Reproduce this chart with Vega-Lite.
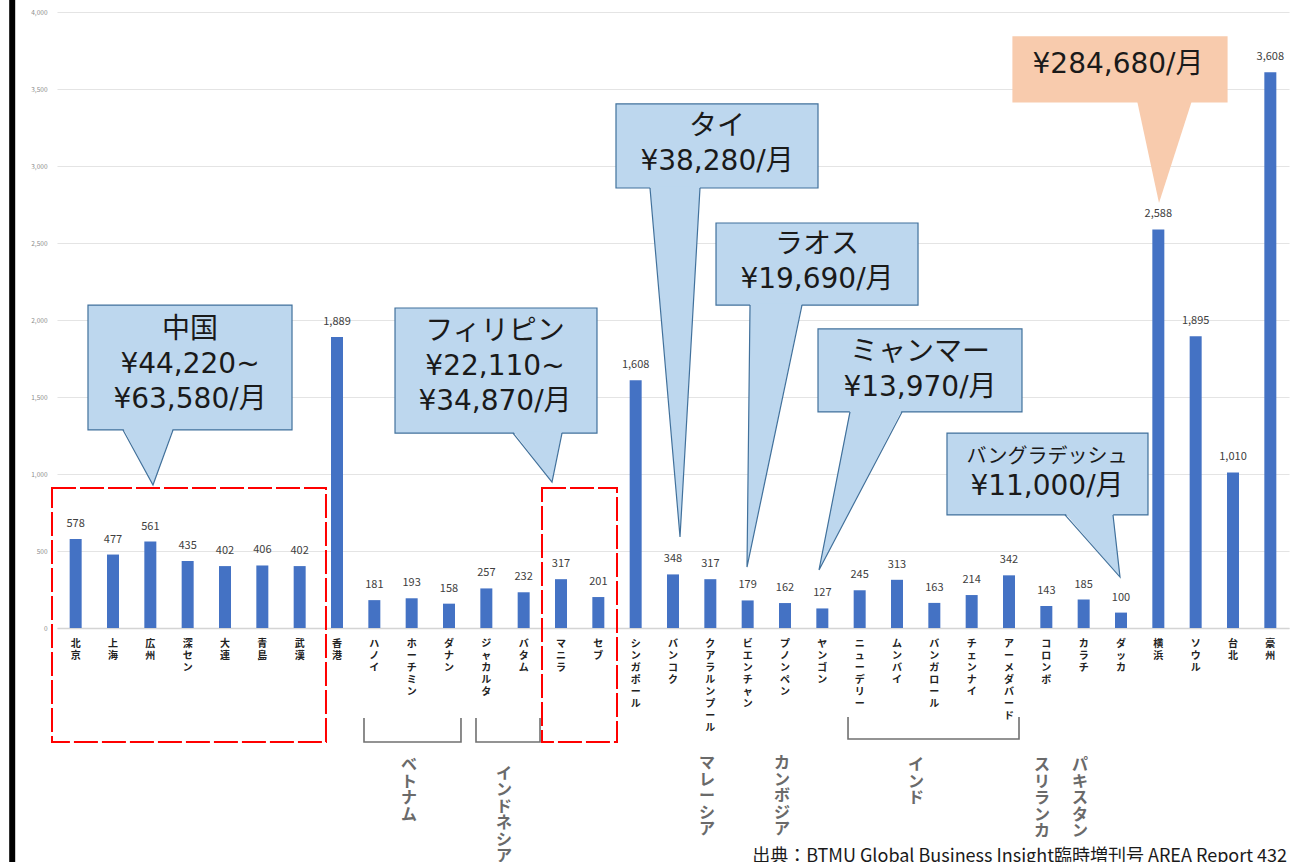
{
  "$schema": "https://vega.github.io/schema/vega-lite/v6.json",
  "width": 1232,
  "height": 616,
  "autosize": {"type": "none"},
  "padding": {"left": 57, "top": 12, "right": 9, "bottom": 234},
  "background": "white",
  "config": {
    "view": {"stroke": null},
    "font": "Noto Sans CJK JP"
  },
  "datasets": {
    "bars": [
      {"city": "北京", "value": 578}, {"city": "上海", "value": 477}, {"city": "広州", "value": 561},
      {"city": "深セン", "value": 435}, {"city": "大連", "value": 402}, {"city": "青島", "value": 406},
      {"city": "武漢", "value": 402}, {"city": "香港", "value": 1889}, {"city": "ハノイ", "value": 181},
      {"city": "ホーチミン", "value": 193}, {"city": "ダナン", "value": 158}, {"city": "ジャカルタ", "value": 257},
      {"city": "バタム", "value": 232}, {"city": "マニラ", "value": 317}, {"city": "セブ", "value": 201},
      {"city": "シンガポール", "value": 1608}, {"city": "バンコク", "value": 348}, {"city": "クアラルンプール", "value": 317},
      {"city": "ビエンチャン", "value": 179}, {"city": "プノンペン", "value": 162}, {"city": "ヤンゴン", "value": 127},
      {"city": "ニューデリー", "value": 245}, {"city": "ムンバイ", "value": 313}, {"city": "バンガロール", "value": 163},
      {"city": "チェンナイ", "value": 214}, {"city": "アーメダバード", "value": 342}, {"city": "コロンボ", "value": 143},
      {"city": "カラチ", "value": 185}, {"city": "ダッカ", "value": 100}, {"city": "横浜", "value": 2588},
      {"city": "ソウル", "value": 1895}, {"city": "台北", "value": 1010}, {"city": "豪州", "value": 3608}
    ],
    "boxes": [
      {"id": "cn", "kind": "asia", "u1": 0.830, "u2": 6.295, "v1": 1286, "v2": 2097},
      {"id": "ph", "kind": "asia", "u1": 9.054, "u2": 14.464, "v1": 1266, "v2": 2078},
      {"id": "th", "kind": "asia", "u1": 14.973, "u2": 20.384, "v1": 2857, "v2": 3403},
      {"id": "la", "kind": "asia", "u1": 17.652, "u2": 23.063, "v1": 2097, "v2": 2630},
      {"id": "mm", "kind": "asia", "u1": 20.384, "u2": 25.848, "v1": 1403, "v2": 1942},
      {"id": "bd", "kind": "asia", "u1": 23.839, "u2": 29.223, "v1": 734, "v2": 1266},
      {"id": "jp", "kind": "japan", "u1": 25.607, "u2": 31.339, "v1": 3416, "v2": 3838}
    ],
    "tri": [
      {"id": "cn", "kind": "asia", "v": 1298, "xa": 1.768, "xb": 3.107}, {"id": "cn", "kind": "asia", "v": 929, "xa": 2.571, "xb": 2.571},
      {"id": "ph", "kind": "asia", "v": 1278, "xa": 12.214, "xb": 13.527}, {"id": "ph", "kind": "asia", "v": 948, "xa": 13.259, "xb": 13.259},
      {"id": "th", "kind": "asia", "v": 2869, "xa": 15.884, "xb": 17.223}, {"id": "th", "kind": "asia", "v": 591, "xa": 16.688, "xb": 16.688},
      {"id": "la", "kind": "asia", "v": 2109, "xa": 18.563, "xb": 19.955}, {"id": "la", "kind": "asia", "v": 396, "xa": 18.482, "xb": 18.482},
      {"id": "mm", "kind": "asia", "v": 1415, "xa": 21.241, "xb": 22.634}, {"id": "mm", "kind": "asia", "v": 377, "xa": 20.411, "xb": 20.411},
      {"id": "bd", "kind": "asia", "v": 746, "xa": 27.0, "xb": 28.286}, {"id": "bd", "kind": "asia", "v": 331, "xa": 28.473, "xb": 28.473},
      {"id": "jp", "kind": "japan", "v": 3426, "xa": 28.929, "xb": 30.402}, {"id": "jp", "kind": "japan", "v": 2760, "xa": 29.518, "xb": 29.518}
    ],
    "sides": [
      {"id": "cn", "o": 1, "u": 1.768, "v": 1286}, {"id": "cn", "o": 2, "u": 2.571, "v": 929}, {"id": "cn", "o": 3, "u": 3.107, "v": 1286},
      {"id": "ph", "o": 1, "u": 12.214, "v": 1266}, {"id": "ph", "o": 2, "u": 13.259, "v": 948}, {"id": "ph", "o": 3, "u": 13.527, "v": 1266},
      {"id": "th", "o": 1, "u": 15.884, "v": 2857}, {"id": "th", "o": 2, "u": 16.688, "v": 591}, {"id": "th", "o": 3, "u": 17.223, "v": 2857},
      {"id": "la", "o": 1, "u": 18.563, "v": 2097}, {"id": "la", "o": 2, "u": 18.482, "v": 396}, {"id": "la", "o": 3, "u": 19.955, "v": 2097},
      {"id": "mm", "o": 1, "u": 21.241, "v": 1403}, {"id": "mm", "o": 2, "u": 20.411, "v": 377}, {"id": "mm", "o": 3, "u": 22.634, "v": 1403},
      {"id": "bd", "o": 1, "u": 27.0, "v": 734}, {"id": "bd", "o": 2, "u": 28.473, "v": 331}, {"id": "bd", "o": 3, "u": 28.286, "v": 734}
    ],
    "calloutText": [
      {"u": 3.563, "v": 1935, "text": "中国\n¥44,220~\n¥63,580/月"},
      {"u": 11.732, "v": 1922, "text": "フィリピン\n¥22,110~\n¥34,870/月"},
      {"u": 17.679, "v": 3253, "text": "タイ\n¥38,280/月"},
      {"u": 20.357, "v": 2487, "text": "ラオス\n¥19,690/月"},
      {"u": 23.116, "v": 1786, "text": "ミャンマー\n¥13,970/月"},
      {"u": 26.518, "v": 916, "text": "¥11,000/月"},
      {"u": 28.420, "v": 3656, "text": "¥284,680/月"}
    ],
    "smallCallout": [
      {"u": 26.518, "v": 1110, "text": "バングラデッシュ"}
    ],
    "frames": [
      {"id": "中国", "u1": -0.134, "u2": 7.205, "v1": -740, "v2": 909},
      {"id": "フィリピン", "u1": 12.991, "u2": 15.0, "v1": -740, "v2": 909}
    ],
    "brackets": [
      {"id": "vn", "o": 1, "u": 8.223, "v": -584}, {"id": "vn", "o": 2, "u": 8.223, "v": -740}, {"id": "vn", "o": 3, "u": 10.821, "v": -740}, {"id": "vn", "o": 4, "u": 10.821, "v": -584},
      {"id": "id", "o": 1, "u": 11.223, "v": -584}, {"id": "id", "o": 2, "u": 11.223, "v": -740}, {"id": "id", "o": 3, "u": 12.938, "v": -740}, {"id": "id", "o": 4, "u": 12.938, "v": -584},
      {"id": "in", "o": 1, "u": 21.188, "v": -578}, {"id": "in", "o": 2, "u": 21.188, "v": -721}, {"id": "in", "o": 3, "u": 25.768, "v": -721}, {"id": "in", "o": 4, "u": 25.768, "v": -578}
    ],
    "countries": [
      {"u": 9.429, "v": -838, "text": "ベ\nト\nナ\nム"},
      {"u": 11.973, "v": -896, "text": "イ\nン\nド\nネ\nシ\nア"},
      {"u": 17.411, "v": -825, "text": "マ\nレ\nー\nシ\nア"},
      {"u": 19.420, "v": -825, "text": "カ\nン\nボ\nジ\nア"},
      {"u": 23.009, "v": -838, "text": "イ\nン\nド"},
      {"u": 26.384, "v": -838, "text": "ス\nリ\nラ\nン\nカ"},
      {"u": 27.402, "v": -838, "text": "パ\nキ\nス\nタ\nン"}
    ],
    "source": [
      {"u": 32.946, "v": -1487, "text": "出典：BTMU Global Business Insight臨時増刊号 AREA Report 432"}
    ],
    "edge": [
      {"u": -1.2, "v1": 4100, "v2": -1600}
    ]
  },
  "layer": [
    {
      "data": {"name": "bars"},
      "encoding": {
        "x": {"field": "city", "type": "nominal", "sort": null, "title": null,
              "scale": {"paddingInner": 0, "paddingOuter": 0},
              "axis": {"labelAngle": 0, "labelBaseline": "top", "labelAlign": "center", "labelPadding": 10, "labelFontSize": 10, "labelLineHeight": 12, "labelFontWeight": "bold", "labelColor": "#222222", "labelExpr": "split(datum.label, '')", "labelOverlap": false, "labelBound": false, "labelLimit": 0, "ticks": false, "domain": true, "domainColor": "#d4d4d4", "domainWidth": 1.5, "grid": false}},
        "y": {"field": "value", "type": "quantitative", "title": null, "scale": {"domain": [0, 4000], "nice": false},
              "axis": {"domain": false, "ticks": false, "labelFontSize": 6.5, "labelColor": "#8c8c8c", "gridColor": "#e4e4e4", "gridWidth": 1.2, "labelPadding": 10, "values": [0, 500, 1000, 1500, 2000, 2500, 3000, 3500, 4000], "labelExpr": "format(datum.value, ',')"}}
      },
      "layer": [
        {"mark": {"type": "bar", "width": 12, "color": "#4472C4"}},
        {"mark": {"type": "text", "baseline": "alphabetic", "dy": -12, "fontSize": 11, "color": "#404040"},
         "encoding": {"text": {"field": "value", "type": "quantitative", "format": ","}}}
      ]
    },
    {
      "layer": [
        {
          "data": {"name": "edge"},
          "mark": {"type": "rule", "color": "#000000", "strokeWidth": 6},
          "encoding": {
            "x": {"field": "u", "type": "quantitative", "axis": null, "scale": {"domain": [0, 33], "nice": false, "zero": false}},
            "y": {"field": "v1", "type": "quantitative", "title": null},
            "y2": {"field": "v2"}
          }
        },
        {
          "data": {"name": "frames"},
          "mark": {"type": "rect", "fill": null, "stroke": "#ff0000", "strokeWidth": 2, "strokeDash": [24, 4]},
          "encoding": {
            "x": {"field": "u1", "type": "quantitative", "axis": null, "scale": {"domain": [0, 33], "nice": false, "zero": false}},
            "x2": {"field": "u2"},
            "y": {"field": "v1", "type": "quantitative", "title": null},
            "y2": {"field": "v2"}
          }
        },
        {
          "data": {"name": "brackets"},
          "mark": {"type": "line", "color": "#707070", "strokeWidth": 1.6},
          "encoding": {
            "x": {"field": "u", "type": "quantitative", "axis": null, "scale": {"domain": [0, 33], "nice": false, "zero": false}},
            "y": {"field": "v", "type": "quantitative", "title": null},
            "detail": {"field": "id"},
            "order": {"field": "o"}
          }
        },
        {
          "data": {"name": "boxes"},
          "mark": {"type": "rect"},
          "encoding": {
            "x": {"field": "u1", "type": "quantitative", "axis": null, "scale": {"domain": [0, 33], "nice": false, "zero": false}},
            "x2": {"field": "u2"},
            "y": {"field": "v1", "type": "quantitative", "title": null},
            "y2": {"field": "v2"},
            "fill": {"field": "kind", "type": "nominal", "legend": null, "scale": {"domain": ["asia", "japan"], "range": ["#BDD7EE", "#F8CBAD"]}},
            "stroke": {"field": "kind", "type": "nominal", "legend": null, "scale": {"domain": ["asia", "japan"], "range": ["#41719C", "#F8CBAD"]}},
            "strokeWidth": {"value": 1.2}
          }
        },
        {
          "data": {"name": "tri"},
          "mark": {"type": "area", "orient": "horizontal"},
          "encoding": {
            "y": {"field": "v", "type": "quantitative", "title": null},
            "x": {"field": "xa", "type": "quantitative", "axis": null, "scale": {"domain": [0, 33], "nice": false, "zero": false}},
            "x2": {"field": "xb"},
            "detail": {"field": "id"},
            "fill": {"field": "kind", "type": "nominal", "legend": null, "scale": {"domain": ["asia", "japan"], "range": ["#BDD7EE", "#F8CBAD"]}}
          }
        },
        {
          "data": {"name": "sides"},
          "mark": {"type": "line", "color": "#41719C", "strokeWidth": 1.2},
          "encoding": {
            "x": {"field": "u", "type": "quantitative", "axis": null, "scale": {"domain": [0, 33], "nice": false, "zero": false}},
            "y": {"field": "v", "type": "quantitative", "title": null},
            "detail": {"field": "id"},
            "order": {"field": "o"}
          }
        },
        {
          "data": {"name": "calloutText"},
          "mark": {"type": "text", "font": "DejaVu Sans, Noto Sans CJK JP", "fontSize": 28, "lineHeight": 35, "lineBreak": "\n", "baseline": "middle", "align": "center", "color": "#1a1a1a"},
          "encoding": {
            "x": {"field": "u", "type": "quantitative", "axis": null, "scale": {"domain": [0, 33], "nice": false, "zero": false}},
            "y": {"field": "v", "type": "quantitative", "title": null},
            "text": {"field": "text"}
          }
        },
        {
          "data": {"name": "smallCallout"},
          "mark": {"type": "text", "fontSize": 20, "baseline": "middle", "align": "center", "color": "#1a1a1a"},
          "encoding": {
            "x": {"field": "u", "type": "quantitative", "axis": null, "scale": {"domain": [0, 33], "nice": false, "zero": false}},
            "y": {"field": "v", "type": "quantitative", "title": null},
            "text": {"field": "text"}
          }
        },
        {
          "data": {"name": "countries"},
          "mark": {"type": "text", "fontSize": 16, "fontWeight": "bold", "lineHeight": 16.5, "lineBreak": "\n", "baseline": "top", "align": "center", "color": "#6a6a6a"},
          "encoding": {
            "x": {"field": "u", "type": "quantitative", "axis": null, "scale": {"domain": [0, 33], "nice": false, "zero": false}},
            "y": {"field": "v", "type": "quantitative", "title": null},
            "text": {"field": "text"}
          }
        },
        {
          "data": {"name": "source"},
          "mark": {"type": "text", "fontSize": 18, "baseline": "middle", "align": "right", "color": "#1a1a1a"},
          "encoding": {
            "x": {"field": "u", "type": "quantitative", "axis": null, "scale": {"domain": [0, 33], "nice": false, "zero": false}},
            "y": {"field": "v", "type": "quantitative", "title": null},
            "text": {"field": "text"}
          }
        }
      ]
    }
  ],
  "resolve": {"scale": {"x": "independent", "fill": "independent"}}
}
